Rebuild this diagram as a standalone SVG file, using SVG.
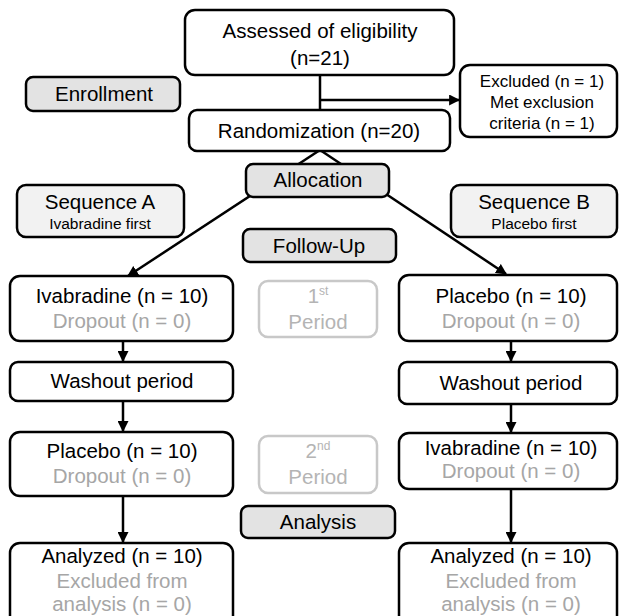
<svg xmlns="http://www.w3.org/2000/svg" width="620" height="616" viewBox="0 0 620 616">
<style>
text{font-family:"Liberation Sans",Arial,sans-serif;fill:#000;text-anchor:middle}
.t{font-size:20.5px}
.s{font-size:17px}
.xs{font-size:15.5px}
.g{fill:#a6a6a6}
.lg{fill:#b4b4b4}
.box{fill:#fff;stroke:#000;stroke-width:2.5}
.hd{fill:#e3e3e3;stroke:#000;stroke-width:2.5}
.sq{fill:#f2f2f2;stroke:#000;stroke-width:2.5}
.pd{fill:#fff;stroke:#c8c8c8;stroke-width:2.5}
.c{fill:none;stroke:#000;stroke-width:2.5}
</style>
<defs>
<marker id="ah" viewBox="0 0 10 10" refX="9" refY="5" markerWidth="4.4" markerHeight="4.4" orient="auto" markerUnits="strokeWidth">
<path d="M0,0 L10,5 L0,10 z" fill="#000"/>
</marker>
</defs>
<g id="connectors">
<line class="c" x1="320" y1="75" x2="320" y2="110"/>
<line class="c" x1="320" y1="100" x2="459" y2="100" marker-end="url(#ah)"/>
<line class="c" x1="320" y1="150" x2="128" y2="276" marker-end="url(#ah)"/>
<line class="c" x1="320" y1="150" x2="506" y2="274" marker-end="url(#ah)"/>
<line class="c" x1="123" y1="341" x2="123" y2="361" marker-end="url(#ah)"/>
<line class="c" x1="511" y1="341" x2="511" y2="361" marker-end="url(#ah)"/>
<line class="c" x1="123" y1="401" x2="123" y2="431" marker-end="url(#ah)"/>
<line class="c" x1="511" y1="404" x2="511" y2="432" marker-end="url(#ah)"/>
<line class="c" x1="123" y1="496" x2="123" y2="542" marker-end="url(#ah)"/>
<line class="c" x1="511" y1="489" x2="511" y2="542" marker-end="url(#ah)"/>
</g>
<g id="assessed">
<rect class="box" x="185" y="10" width="269" height="65" rx="10"/>
<text class="t" x="320" y="38">Assessed of eligibility</text>
<text class="t" x="320" y="65">(n=21)</text>
</g>
<g id="enrollment">
<rect class="hd" x="26" y="77" width="154" height="34" rx="7"/>
<text class="t" x="104" y="101">Enrollment</text>
</g>
<g id="excluded">
<rect class="box" x="460" y="65" width="157" height="72" rx="10"/>
<text class="s" x="542" y="87">Excluded (n = 1)</text>
<text class="s" x="542" y="108">Met exclusion</text>
<text class="s" x="542" y="129">criteria (n = 1)</text>
</g>
<g id="randomization">
<rect class="box" x="189" y="110" width="261" height="41" rx="8"/>
<text class="t" x="319" y="138">Randomization (n=20)</text>
</g>
<g id="allocation">
<rect class="hd" x="246" y="164" width="143" height="33" rx="7"/>
<text class="t" x="318" y="187">Allocation</text>
</g>
<g id="seqA">
<rect class="sq" x="17" y="185" width="167" height="52" rx="9"/>
<text class="t" x="100" y="209">Sequence A</text>
<text class="xs" x="100" y="229">Ivabradine first</text>
</g>
<g id="seqB">
<rect class="sq" x="451" y="185" width="166" height="52" rx="9"/>
<text class="t" x="534" y="209">Sequence B</text>
<text class="xs" x="534" y="229">Placebo first</text>
</g>
<g id="followup">
<rect class="hd" x="243" y="229" width="153" height="33" rx="7"/>
<text class="t" x="319" y="253">Follow-Up</text>
</g>
<g id="ivaA">
<rect class="box" x="10" y="276" width="223" height="65" rx="10"/>
<text class="t" x="122" y="303">Ivabradine (n = 10)</text>
<text class="t g" x="122" y="328">Dropout (n = 0)</text>
</g>
<g id="period1">
<rect class="pd" x="259" y="281" width="118" height="56" rx="9"/>
<text class="t lg" x="318" y="303">1<tspan font-size="12" dy="-8">st</tspan></text>
<text class="t lg" x="318" y="329">Period</text>
</g>
<g id="plaB">
<rect class="box" x="399" y="275" width="218" height="66" rx="10"/>
<text class="t" x="511" y="303">Placebo (n = 10)</text>
<text class="t g" x="511" y="328">Dropout (n = 0)</text>
</g>
<g id="washA">
<rect class="box" x="10" y="362" width="223" height="39" rx="8"/>
<text class="t" x="122" y="388">Washout period</text>
</g>
<g id="washB">
<rect class="box" x="399" y="362" width="218" height="42" rx="8"/>
<text class="t" x="511" y="390">Washout period</text>
</g>
<g id="plaA">
<rect class="box" x="10" y="432" width="223" height="64" rx="10"/>
<text class="t" x="122" y="458">Placebo (n = 10)</text>
<text class="t g" x="122" y="483">Dropout (n = 0)</text>
</g>
<g id="period2">
<rect class="pd" x="259" y="436" width="118" height="57" rx="9"/>
<text class="t lg" x="318" y="458">2<tspan font-size="12" dy="-8">nd</tspan></text>
<text class="t lg" x="318" y="484">Period</text>
</g>
<g id="ivaB">
<rect class="box" x="399" y="433" width="218" height="56" rx="10"/>
<text class="t" x="511" y="455">Ivabradine (n = 10)</text>
<text class="t g" x="511" y="478">Dropout (n = 0)</text>
</g>
<g id="analysis">
<rect class="hd" x="241" y="506" width="154" height="32" rx="7"/>
<text class="t" x="318" y="529">Analysis</text>
</g>
<g id="anaA">
<rect class="box" x="10" y="543" width="223" height="90" rx="10"/>
<text class="t" x="122" y="563">Analyzed (n = 10)</text>
<text class="t g" x="122" y="588">Excluded from</text>
<text class="t g" x="122" y="611">analysis (n = 0)</text>
</g>
<g id="anaB">
<rect class="box" x="399" y="543" width="218" height="90" rx="10"/>
<text class="t" x="511" y="563">Analyzed (n = 10)</text>
<text class="t g" x="511" y="588">Excluded from</text>
<text class="t g" x="511" y="611">analysis (n = 0)</text>
</g>
</svg>
